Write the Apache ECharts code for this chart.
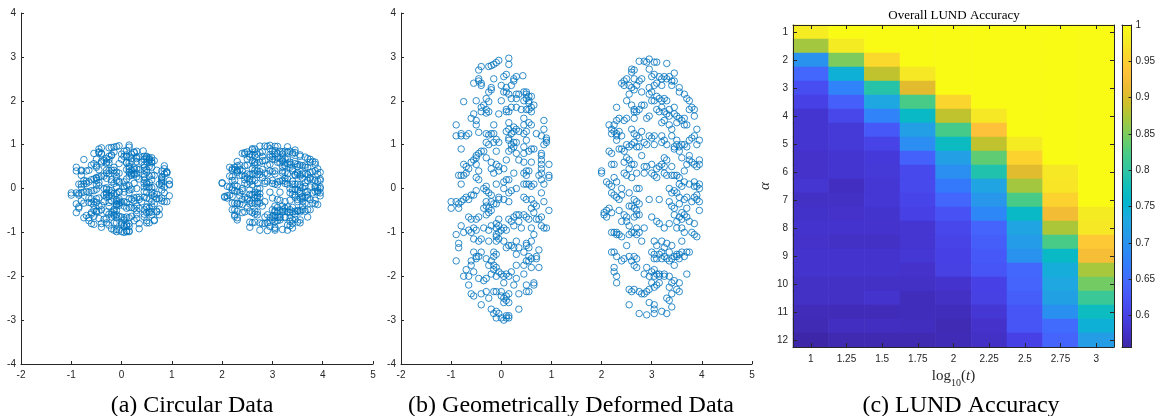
<!DOCTYPE html>
<html>
<head>
<meta charset="utf-8">
<script src="https://cdn.jsdelivr.net/npm/echarts@6/dist/echarts.min.js"></script>
<style>
  html, body { margin: 0; padding: 0; background: #fff; }
  #chart { width: 1158px; height: 416px; }
</style>
</head>
<body>
<div id="chart"></div>
<script>
// ---------------- data ----------------
// Two clusters after the vertical stretch (panel b), [x, y]
const deformedLeft = [
  [0.15,2.97],[0.15,2.83],[-0.05,2.92],[-0.1,2.87],[-0.15,2.83],[-0.2,2.8],[-0.25,2.78],[-0.4,2.78],[-0.45,2.7],[0.1,2.6],
  [0.05,2.55],[0.25,2.5],[0.3,2.55],[0.43,2.57],[-0.15,2.5],[0.25,2.45],[-0.45,2.5],[-0.45,2.45],[-0.4,2.4],[-0.55,2.4],
  [-0.4,2.35],[0,2.35],[0.1,2.3],[0.2,2.35],[-0.2,2.3],[-0.2,2.25],[0.05,2.2],[0.1,2.2],[0.15,2.15],[0.3,2.15],
  [0.35,2.15],[0.45,2.2],[0.5,2.15],[0.5,2.2],[0.55,2.1],[0.5,2.05],[0.55,2],[0.55,1.95],[0.45,2],[0,2],
  [0.3,2.05],[0.2,2.05],[-0.25,2.2],[-0.3,2.05],[-0.25,1.98],[-0.35,1.9],[-0.4,1.85],[-0.5,2],[-0.75,1.98],[0.6,2.1],
  [0.65,1.9],[0.3,1.85],[0.2,1.85],[0.1,1.8],[-0.3,1.8],[-0.25,1.75],[-0.3,1.72],[-0.4,1.75],[-0.55,1.7],[-0.6,1.6],
  [-0.5,1.55],[-0.5,1.45],[-0.05,1.7],[0.1,1.75],[0.15,1.75],[0.4,1.8],[0.5,1.8],[0.55,1.8],[0.6,1.85],[0.6,1.75],
  [0.45,1.6],[0.55,1.5],[0.6,1.45],[0.45,1.45],[0.85,1.55],[-0.9,1.45],[-0.15,1.45],[0.15,1.5],[-0.9,1.2],[-0.8,1.25],
  [-0.8,1.2],[-0.7,1.2],[-0.65,1.25],[-0.45,1.28],[-0.3,1.25],[-0.25,1.22],[-0.2,1.25],[-0.15,1.25],[-0.1,1.12],[-0.15,1.05],
  [-0.05,1.05],[0.1,1.3],[0.15,1.35],[0.2,1.25],[0.25,1.4],[0.25,1.3],[0.3,1.35],[0.35,1.3],[0.15,1.15],[0.15,1.1],
  [0.2,1],[0.25,0.95],[0.25,1.05],[0.3,1.05],[0.45,1.25],[0.5,1.3],[0.5,1.1],[0.7,1.25],[0.8,1.2],[0.85,1.35],
  [0.9,1.1],[0.9,1.15],[0.9,1.05],[0.85,1],[-0.8,0.9],[-0.3,1.05],[-0.25,1],[-0.1,0.85],[0.15,0.85],[0.2,0.9],
  [0.3,0.8],[0.45,0.95],[0.45,0.8],[0.55,0.85],[0.6,0.9],[0.65,0.9],[0.8,0.8],[0.8,0.75],[0.8,0.65],[0.8,0.55],
  [0.8,0.45],[0.95,0.55],[-0.45,0.8],[-0.4,0.85],[-0.35,0.85],[-0.5,0.75],[-0.5,0.7],[-0.55,0.65],[-0.6,0.6],[-0.7,0.5],
  [-0.75,0.55],[-0.3,0.7],[-0.2,0.6],[-0.1,0.55],[-0.05,0.5],[0.05,0.45],[0.1,0.65],[0.35,0.65],[0.45,0.6],[0.6,0.6],
  [-0.5,0.55],[-0.65,0.45],[-0.85,0.3],[-0.8,0.3],[-0.75,0.3],[-0.7,0.35],[-0.8,0.1],[-0.5,0.25],[-0.45,0.4],[-0.45,0.2],
  [-0.2,0.45],[-0.15,0.35],[-0.1,0.1],[-0.05,0.4],[0.05,0.15],[0.1,0.2],[0.15,0.2],[0.25,0.35],[0.45,0.35],[0.5,0.4],
  [0.55,0.4],[0.5,0.3],[0.5,0.1],[0.45,0.1],[0.55,0.1],[0.6,0.05],[0.65,0.1],[0.75,0.3],[0.8,0.2],[0.8,0.35],
  [0.85,0.1],[0.95,0.3],[0.95,0.25],[0.05,0],[-0.3,0.05],[-0.35,0],[-1,-0.3],[-1,-0.45],[-0.9,-0.3],[-0.85,-0.35],
  [-0.85,-0.45],[-0.8,-0.3],[-0.75,-0.25],[-0.7,-0.2],[-0.6,-0.15],[-0.55,-0.15],[-0.65,-0.25],[-0.5,-0.05],[-0.3,-0.05],[-0.25,-0.1],
  [-0.2,-0.15],[-0.3,-0.3],[-0.2,-0.3],[-0.1,-0.35],[-0.15,-0.35],[-0.25,-0.45],[-0.3,-0.4],[-0.2,-0.5],[-0.35,-0.45],[-0.05,-0.25],
  [-0.05,-0.2],[0.05,-0.25],[0.15,-0.1],[0.15,-0.3],[0.2,-0.05],[0.3,0],[0.45,-0.2],[0.5,-0.25],[0.6,-0.25],[0.65,-0.35],
  [0.6,-0.45],[0.7,-0.4],[0.8,-0.1],[0.85,-0.3],[-0.65,-0.65],[-0.6,-0.7],[-0.5,-0.7],[-0.45,-0.65],[-0.3,-0.6],[-0.25,-0.55],
  [-0.55,-0.9],[-0.5,-0.95],[-0.65,-0.95],[-0.8,-0.85],[-0.25,-0.95],[-0.2,-0.85],[-0.1,-0.8],[-0.05,-0.85],[-0.1,-0.9],[-0.05,-1],
  [0,-0.95],[0.05,-0.9],[0.1,-0.95],[0.15,-0.7],[0.2,-0.75],[0.25,-0.65],[0.3,-0.6],[0.35,-0.6],[0.35,-0.75],[0.45,-0.6],
  [0.5,-0.65],[0.55,-0.7],[0.65,-0.55],[0.7,-0.7],[0.75,-0.7],[0.8,-0.65],[0.8,-0.85],[0.85,-0.9],[0.9,-0.9],[0.95,-0.5],
  [0.4,-0.9],[0.6,-0.9],[-0.05,-0.7],[0.25,-0.85],[-0.9,-1.05],[-0.75,-1],[-0.6,-1],[-0.55,-1.15],[-0.45,-1.2],[-0.4,-1.15],
  [-0.25,-1.2],[-0.1,-1.05],[-0.1,-1.1],[-0.05,-1.15],[-0.1,-1.2],[0.05,-1.2],[0.15,-1.3],[0.1,-1.35],[0.2,-1.3],[0.25,-1.35],
  [0.35,-1.35],[0.3,-1.2],[0.5,-1.25],[0.5,-1.3],[0.55,-1.35],[0.65,-1.05],[0.6,-1.2],[-0.85,-1.25],[-0.85,-1.35],[-0.55,-1.45],
  [-0.5,-1.55],[-0.4,-1.45],[-0.15,-1.45],[-0.1,-1.5],[-0.15,-1.55],[0.3,-1.5],[0.45,-1.45],[0.55,-1.55],[0.6,-1.6],[0.7,-1.55],
  [0.75,-1.4],[-0.35,-0.9],[-0.9,-1.65],[-0.6,-1.65],[-0.6,-1.75],[-0.5,-1.6],[-0.45,-1.55],[-0.3,-1.6],[-0.25,-1.75],[-0.2,-1.65],
  [-0.15,-1.75],[-0.15,-1.85],[-0.1,-1.8],[-0.05,-1.9],[0,-1.95],[0.05,-2],[0.1,-1.95],[0.15,-2],[0.2,-1.9],[0.3,-2.05],
  [0.3,-1.75],[0.45,-1.75],[0.5,-1.65],[0.6,-1.8],[0.55,-1.65],[0.7,-1.6],[0.75,-1.8],[-0.7,-1.85],[-0.75,-2],[-0.65,-2],
  [-0.55,-1.9],[-0.45,-2.05],[-0.35,-2.1],[-0.3,-2.05],[-0.2,-1.95],[-0.1,-2],[0.45,-1.95],[-0.65,-2.2],[-0.6,-2.4],[-0.55,-2.45],
  [-0.4,-2.4],[-0.3,-2.35],[-0.15,-2.35],[-0.1,-2.35],[0,-2.35],[0,-2.45],[0.05,-2.5],[0.1,-2.45],[0.05,-2.15],[0.25,-2.2],
  [0.15,-2.4],[0.35,-2.4],[0.5,-2.2],[0.5,-2.35],[0.55,-2.35],[0.65,-2.2],[0.65,-2.15],[-0.25,-2.5],[-0.4,-2.65],[-0.2,-2.75],
  [-0.15,-2.85],[-0.1,-2.8],[-0.05,-2.85],[-0.1,-2.95],[0.05,-2.6],[0.1,-2.55],[0.15,-2.6],[0.1,-2.9],[0.15,-2.95],[0.15,-2.9],
  [0.05,-3],[0.1,-2.95],[0.35,-2.75],[0,-2.95]
];
const deformedRight = [
  [2.95,2.95],[2.85,2.9],[2.9,2.88],[2.75,2.9],[3.05,2.88],[3.1,2.88],[3.3,2.85],[2.95,2.72],[2.6,2.72],[2.65,2.7],
  [2.6,2.65],[3.45,2.63],[3,2.55],[3.05,2.6],[3.15,2.55],[3.2,2.5],[3.25,2.55],[3.3,2.5],[3.35,2.55],[3.4,2.45],
  [2.8,2.5],[2.75,2.45],[2.65,2.5],[2.5,2.5],[2.45,2.45],[3.45,2.45],[2.4,2.4],[2.45,2.35],[2.55,2.35],[2.6,2.3],
  [2.7,2.35],[2.65,2.25],[2.95,2.3],[3,2.2],[3.05,2.35],[3.1,2.4],[3.2,2.35],[3.4,2.35],[3.55,2.3],[3.55,2.2],
  [3.65,2.15],[2.55,2.15],[2.8,2.2],[2.95,2.15],[3.1,2.1],[3.15,2.05],[3.2,2],[3.25,2.05],[3.3,2],[3.7,2.05],
  [3.75,2],[3.05,2],[3,2],[2.5,2],[2.3,1.85],[2.6,1.9],[2.65,1.8],[2.65,1.75],[2.7,1.75],[2.75,1.8],
  [2.8,1.9],[2.85,1.9],[3.1,1.8],[3.15,1.75],[3.2,1.85],[3.25,1.75],[3.3,1.7],[3.35,1.8],[3.35,1.65],[3.45,1.7],
  [3.45,1.85],[3.5,1.65],[3.55,1.6],[3.6,1.55],[3.65,1.6],[3.75,1.8],[3.8,1.85],[3.85,1.8],[3.85,1.65],[2.3,1.55],
  [2.35,1.6],[2.45,1.55],[2.5,1.6],[2.65,1.6],[2.9,1.6],[2.95,1.65],[3.2,1.5],[3.25,1.55],[3.35,1.45],[3.4,1.35],
  [3.5,1.5],[3.65,1.45],[3.7,1.45],[2.15,1.45],[2.2,1.35],[2.25,1.3],[2.3,1.25],[2.35,1.3],[2.3,1.2],[2.2,1.25],
  [2.25,1.45],[2.4,1.2],[2.6,1.35],[2.65,1.25],[2.7,1.2],[2.75,1.15],[2.8,1.3],[2.85,1.05],[2.95,1.2],[3,1.15],
  [3.05,1.2],[2.9,1],[3.05,1],[3.2,1.05],[3.2,1.2],[3.25,1.1],[3.3,1],[3.4,1.2],[3.5,1.1],[3.5,1],
  [3.45,0.95],[3.55,0.95],[3.6,1],[3.65,1],[3.75,1.1],[3.8,1.15],[3.85,1.2],[3.9,1.35],[3.95,1.1],[3.9,1],
  [2.3,1.1],[2.5,1],[2.55,0.95],[2.6,1],[2.65,1.05],[2.75,0.95],[2.15,0.85],[2.2,0.8],[2.2,0.55],[2.25,0.55],
  [2.35,0.9],[2.4,0.9],[2.45,0.85],[2.45,0.6],[2.5,0.7],[2.55,0.65],[2.6,0.55],[2.7,0.95],[2.65,0.55],[2.7,0.35],
  [2.8,0.75],[2.85,0.5],[2.9,0.5],[3,0.55],[3.1,0.45],[3.15,0.5],[3.2,0.55],[3.25,0.5],[3.25,0.7],[3.3,0.65],
  [3.4,0.5],[3.45,0.9],[3.5,0.3],[3.55,0.85],[3.6,0.7],[3.7,0.95],[3.75,0.75],[3.75,0.65],[3.8,0.6],[3.85,0.55],
  [3.9,0.5],[3.95,0.55],[3.95,0.65],[3.7,0.55],[3.65,0.4],[2,0.4],[2,0.35],[2.1,0.15],[2.15,0.1],[2.2,0.05],
  [2.25,0.25],[2.3,0.15],[2.4,0],[2.45,0.35],[2.5,0.3],[2.55,0.45],[2.6,0.25],[2.7,0],[2.75,0],[2.85,0.35],
  [3,0.35],[3.05,0.3],[3.1,0.25],[3.25,0.35],[3.3,0.3],[3.4,0.3],[3.45,0.3],[3.55,0.25],[3.65,0.15],[3.75,0.1],
  [3.85,0.05],[3.85,0.15],[3.9,0.05],[3.95,0.1],[3.95,0],[3.6,0.05],[3.55,0.1],[3.35,0],[2.05,-0.55],[2.1,-0.5],
  [2.15,-0.45],[2.2,-0.1],[2.25,-0.15],[2.3,-0.2],[2.35,-0.25],[2.4,-0.15],[2.35,-0.5],[2.55,-0.1],[2.65,-0.25],[2.7,-0.3],
  [2.75,-0.35],[2.95,-0.25],[3.15,-0.25],[3.35,-0.3],[3.4,-0.1],[3.45,-0.05],[3.5,-0.1],[3.55,-0.2],[3.4,-0.4],[3.45,-0.45],
  [3.55,-0.35],[3.65,-0.25],[3.7,-0.2],[3.8,-0.3],[3.85,-0.2],[3.9,-0.25],[3.95,-0.3],[3.9,-0.15],[3.7,-0.45],[2.05,-0.6],
  [2.1,-0.65],[2.2,-0.55],[2.45,-0.6],[2.5,-0.65],[2.55,-0.4],[2.6,-0.4],[2.65,-0.45],[2.7,-0.5],[2.65,-0.65],[2.7,-0.6],
  [2.75,-0.6],[2.5,-0.75],[2.55,-0.85],[2.4,-0.75],[2.25,-1],[2.3,-1],[3,-0.65],[3.1,-0.75],[3.15,-0.8],[3.25,-0.9],
  [3.35,-0.8],[3.45,-0.6],[3.5,-0.75],[3.55,-0.65],[3.6,-0.7],[3.6,-0.55],[3.65,-0.6],[3.7,-0.65],[3.75,-0.75],[3.85,-0.8],
  [3.95,-0.5],[3.5,-0.9],[3.6,-0.9],[3.65,-1],[2.7,-0.9],[2.65,-1],[2.2,-1],[2.3,-1.05],[2.35,-1.05],[2.4,-1.1],
  [2.55,-1.05],[2.6,-1],[2.7,-1.05],[2.75,-1],[2.8,-1.2],[2.85,-0.9],[3.05,-1.2],[3.1,-1.3],[3.2,-1.2],[3.25,-1.35],
  [3.3,-1.25],[3.35,-1.45],[3.4,-1.3],[3.6,-1.2],[3.8,-1],[3.85,-1.05],[3.9,-1.1],[2.5,-1.3],[2.2,-1.45],[2.25,-1.45],
  [3,-1.45],[3.05,-1.5],[3.15,-1.5],[3.2,-1.45],[3.5,-1.5],[3.55,-1.5],[3.7,-1.45],[3.75,-1.45],[2.3,-1.55],[2.25,-1.8],
  [2.4,-1.65],[2.45,-1.6],[2.55,-1.55],[2.6,-1.65],[2.65,-1.55],[2.7,-1.6],[2.65,-1.75],[2.7,-1.8],[2.85,-1.95],[2.9,-1.8],
  [3.05,-1.6],[3.05,-1.85],[3.1,-1.6],[3.2,-1.6],[3.25,-1.55],[3.3,-1.6],[3.35,-1.65],[3.4,-1.6],[3.45,-1.55],[3.5,-1.55],
  [3.6,-1.45],[3.65,-1.55],[3.55,-1.6],[2.25,-1.9],[2.3,-2],[3,-1.9],[3.05,-2],[3.1,-1.95],[3.15,-1.95],[3.25,-1.95],
  [3.35,-2],[3.7,-1.95],[3.45,-1.75],[2.3,-2.15],[2.55,-2.3],[2.6,-2.35],[2.65,-2.3],[2.75,-2.35],[2.8,-2.4],[2.85,-2.4],
  [2.9,-2.35],[2.95,-2.3],[3,-2.15],[3.05,-2.25],[3.1,-2.2],[3.15,-2.15],[3.35,-2.25],[3.4,-2.15],[3.45,-2.1],[3.55,-2.15],
  [3.5,-2.3],[3.55,-2.35],[3.4,-2.4],[2.95,-2],[3.25,-2],[2.55,-2.65],[2.75,-2.85],[2.9,-2.88],[2.95,-2.6],[3.05,-2.65],
  [3.05,-2.75],[3.05,-2.85],[3.2,-2.8],[3.3,-2.85],[3.3,-2.5],[3.35,-2.55],[3.4,-2.7],[3.15,-2]
];
// The deformation stretches y by 3; the circular data is the same sample with that stretch undone
const verticalStretch = 3;
const circularLeft = deformedLeft.map(([x, y]) => [x, y / verticalStretch]);
const circularRight = deformedRight.map(([x, y]) => [x, y / verticalStretch]);

// LUND accuracy grid: rows = alpha, columns = log10(t)
const logT = ['1', '1.25', '1.5', '1.75', '2', '2.25', '2.5', '2.75', '3'];
const alphas = ['1','1.5','2','2.5','3','3.5','4','4.5','5','5.5','6','6.5','7','7.5','8','8.5','9','9.5','10','10.5','11','11.5','12'];
const accuracy = [
  [0.980, 1, 1, 1, 1, 1, 1, 1, 1],
  [0.870, 0.978, 1, 1, 1, 1, 1, 1, 1],
  [0.700, 0.850, 0.960, 1, 1, 1, 1, 1, 1],
  [0.645, 0.747, 0.885, 0.975, 1, 1, 1, 1, 1],
  [0.615, 0.680, 0.795, 0.907, 1, 1, 1, 1, 1],
  [0.600, 0.637, 0.730, 0.823, 0.958, 1, 1, 1, 1],
  [0.582, 0.607, 0.680, 0.765, 0.885, 0.975, 1, 1, 1],
  [0.582, 0.588, 0.628, 0.718, 0.820, 0.934, 1, 1, 1],
  [0.582, 0.588, 0.603, 0.692, 0.770, 0.885, 0.978, 1, 1],
  [0.578, 0.582, 0.590, 0.640, 0.718, 0.835, 0.955, 1, 1],
  [0.578, 0.582, 0.588, 0.610, 0.695, 0.790, 0.905, 0.975, 1],
  [0.583, 0.572, 0.585, 0.610, 0.667, 0.725, 0.870, 0.972, 1],
  [0.575, 0.575, 0.585, 0.605, 0.645, 0.705, 0.823, 0.955, 1],
  [0.577, 0.578, 0.580, 0.600, 0.620, 0.685, 0.765, 0.920, 0.978],
  [0.579, 0.579, 0.579, 0.584, 0.608, 0.642, 0.725, 0.875, 0.975],
  [0.578, 0.575, 0.575, 0.584, 0.603, 0.635, 0.713, 0.823, 0.943],
  [0.579, 0.579, 0.579, 0.585, 0.600, 0.628, 0.700, 0.765, 0.925],
  [0.579, 0.579, 0.579, 0.578, 0.598, 0.624, 0.645, 0.740, 0.872],
  [0.575, 0.575, 0.575, 0.575, 0.579, 0.600, 0.642, 0.730, 0.845],
  [0.575, 0.575, 0.579, 0.569, 0.575, 0.598, 0.635, 0.720, 0.810],
  [0.568, 0.567, 0.567, 0.569, 0.569, 0.585, 0.624, 0.697, 0.772],
  [0.565, 0.572, 0.572, 0.570, 0.565, 0.578, 0.624, 0.650, 0.747],
  [0.557, 0.563, 0.563, 0.563, 0.566, 0.575, 0.600, 0.642, 0.714]
];
const colorTicks = [0.6, 0.65, 0.7, 0.75, 0.8, 0.85, 0.9, 0.95, 1];

// ---------------- styling ----------------
const parula = ['#3E26A8','#4433CD','#4742E6','#4754F6','#4367FD','#337AFC','#2D8BF4','#259BE7','#1CAADF','#04B6CD',
  '#10BEBA','#2FC5A3','#48CB86','#72CC63','#9DC943','#C8C129','#EABA30','#FEC13A','#FBD32E','#F5EB23','#F9FB15'];
const flat = accuracy.flat();
const cMin = Math.min(...flat);
const cMax = Math.max(...flat);
const heatData = [];
accuracy.forEach((row, r) => row.forEach((v, c) => heatData.push([c, r, v])));

const ink = '#262626';
const tickFont = { fontFamily: '"Liberation Sans", Arial, sans-serif', fontSize: 10, color: ink };
const serif = '"Liberation Serif", "Times New Roman", serif';

function scatterAxes(grid) {
  return {
    x: {
      type: 'value', gridIndex: grid, min: -2, max: 5, interval: 1,
      axisLine: { show: true, onZero: false, lineStyle: { color: ink, width: 1 } },
      axisTick: { show: true, inside: true, length: 3, lineStyle: { color: ink } },
      axisLabel: Object.assign({ margin: 6 }, tickFont),
      splitLine: { show: false }
    },
    y: {
      type: 'value', gridIndex: grid, min: -4, max: 4, interval: 1,
      axisLine: { show: true, onZero: false, lineStyle: { color: ink, width: 1 } },
      axisTick: { show: true, inside: true, length: 3, lineStyle: { color: ink } },
      axisLabel: Object.assign({ margin: 5 }, tickFont),
      splitLine: { show: false }
    }
  };
}
const axA = scatterAxes(0), axB = scatterAxes(1);
const evenOnly = (idx) => idx % 2 === 0;
const heatTick = { show: true, inside: true, length: 4, alignWithLabel: true, lineStyle: { color: ink } };

const pointStyle = { color: 'rgba(0,0,0,0)', borderColor: '#0072BD', borderWidth: 1 };
function pts(data, xi, yi) {
  return {
    type: 'scatter', xAxisIndex: xi, yAxisIndex: yi, data: data,
    symbol: 'circle', symbolSize: 6.5, itemStyle: pointStyle,
    emphasis: { disabled: true }, silent: true
  };
}

const chart = echarts.init(document.getElementById('chart'), null, { renderer: 'canvas' });
chart.setOption({
  animation: false,
  backgroundColor: '#fff',
  grid: [
    { left: 21, top: 13, width: 352, height: 351 },
    { left: 401, top: 13, width: 351, height: 351 },
    { left: 793, top: 25, width: 321, height: 322 },
    { left: 1122, top: 25, width: 16, height: 322 }
  ],
  xAxis: [
    axA.x, axB.x,
    {
      type: 'category', gridIndex: 2, data: logT, position: 'bottom', z: 10,
      axisLine: { show: true, lineStyle: { color: ink } },
      axisTick: Object.assign({ interval: 0 }, heatTick),
      axisLabel: Object.assign({ margin: 7, interval: 0 }, tickFont),
      name: '{n|log}{s|10}{n|(}{i|t}{n|)}', nameLocation: 'middle', nameGap: 17,
      nameTextStyle: {
        rich: {
          n: { fontFamily: serif, fontSize: 15, color: ink, lineHeight: 18, verticalAlign: 'bottom' },
          s: { fontFamily: serif, fontSize: 10, color: ink, lineHeight: 12, verticalAlign: 'bottom', padding: [0, 0, -4, 0] },
          i: { fontFamily: serif, fontSize: 15, fontStyle: 'italic', color: ink, lineHeight: 18, verticalAlign: 'bottom' }
        }
      },
      splitLine: { show: false }
    },
    {
      type: 'category', gridIndex: 2, data: logT, position: 'top', z: 10,
      axisLine: { show: true, lineStyle: { color: ink } },
      axisTick: Object.assign({ interval: 0 }, heatTick),
      axisLabel: { show: false }, splitLine: { show: false }
    },
    {
      type: 'category', gridIndex: 3, data: ['bar'], position: 'bottom', z: 10,
      axisLine: { show: true, lineStyle: { color: ink } },
      axisTick: { show: false }, axisLabel: { show: false }
    },
    {
      type: 'category', gridIndex: 3, data: ['bar'], position: 'top', z: 10,
      axisLine: { show: true, lineStyle: { color: ink } },
      axisTick: { show: false }, axisLabel: { show: false }
    }
  ],
  yAxis: [
    axA.y, axB.y,
    {
      type: 'category', gridIndex: 2, data: alphas, inverse: true, position: 'left', z: 10,
      axisLine: { show: true, lineStyle: { color: ink } },
      axisTick: Object.assign({ interval: evenOnly }, heatTick),
      axisLabel: Object.assign({ margin: 5, interval: evenOnly }, tickFont),
      name: 'α', nameLocation: 'middle', nameRotate: 90, nameGap: 18,
      nameTextStyle: { fontFamily: serif, fontSize: 15, fontStyle: 'italic', color: ink },
      splitLine: { show: false }
    },
    {
      type: 'category', gridIndex: 2, data: alphas, inverse: true, position: 'right', z: 10,
      axisLine: { show: true, lineStyle: { color: ink } },
      axisTick: Object.assign({ interval: evenOnly }, heatTick),
      axisLabel: { show: false }, splitLine: { show: false }
    },
    {
      type: 'value', gridIndex: 3, min: cMin, max: cMax, position: 'right', z: 10,
      axisLine: { show: true, onZero: false, lineStyle: { color: ink } },
      axisTick: { show: true, inside: true, length: 3, customValues: colorTicks, lineStyle: { color: ink } },
      axisLabel: Object.assign({ margin: 4, customValues: colorTicks }, tickFont),
      splitLine: { show: false }
    },
    {
      type: 'value', gridIndex: 3, min: cMin, max: cMax, position: 'left', z: 10,
      axisLine: { show: true, onZero: false, lineStyle: { color: ink } },
      axisTick: { show: false }, axisLabel: { show: false }, splitLine: { show: false }
    }
  ],
  visualMap: {
    type: 'continuous', show: false, min: cMin, max: cMax,
    seriesIndex: 4, dimension: 2, inRange: { color: parula }
  },
  series: [
    pts(circularLeft, 0, 0),
    pts(circularRight, 0, 0),
    pts(deformedLeft, 1, 1),
    pts(deformedRight, 1, 1),
    {
      type: 'heatmap', xAxisIndex: 2, yAxisIndex: 2, data: heatData,
      emphasis: { disabled: true }, silent: true, progressive: 0
    },
    // colour bar: a transparent base up to the colour minimum, then the colormap span
    {
      type: 'bar', xAxisIndex: 4, yAxisIndex: 4, stack: 'cb', barWidth: '100%',
      data: [cMin], itemStyle: { color: 'rgba(0,0,0,0)' }, silent: true
    },
    {
      type: 'bar', xAxisIndex: 4, yAxisIndex: 4, stack: 'cb', barWidth: '100%',
      data: [cMax - cMin], silent: true,
      itemStyle: {
        color: new echarts.graphic.LinearGradient(0, 1, 0, 0,
          parula.map((c, i) => ({ offset: i / (parula.length - 1), color: c })))
      }
    }
  ],
  graphic: [
    { type: 'text', x: 954, y: 16, silent: true,
      style: { text: 'Overall LUND Accuracy', font: '13px ' + serif, fill: '#000', align: 'center', verticalAlign: 'middle', textAlign: 'center', textVerticalAlign: 'middle' } },
    { type: 'text', x: 192, y: 406, silent: true,
      style: { text: '(a) Circular Data', font: '24px ' + serif, fill: '#000', align: 'center', verticalAlign: 'middle', textAlign: 'center', textVerticalAlign: 'middle' } },
    { type: 'text', x: 571, y: 406, silent: true,
      style: { text: '(b) Geometrically Deformed Data', font: '24px ' + serif, fill: '#000', align: 'center', verticalAlign: 'middle', textAlign: 'center', textVerticalAlign: 'middle' } },
    { type: 'text', x: 961, y: 406, silent: true,
      style: { text: '(c) LUND Accuracy', font: '24px ' + serif, fill: '#000', align: 'center', verticalAlign: 'middle', textAlign: 'center', textVerticalAlign: 'middle' } }
  ]
});
</script>
</body>
</html>
